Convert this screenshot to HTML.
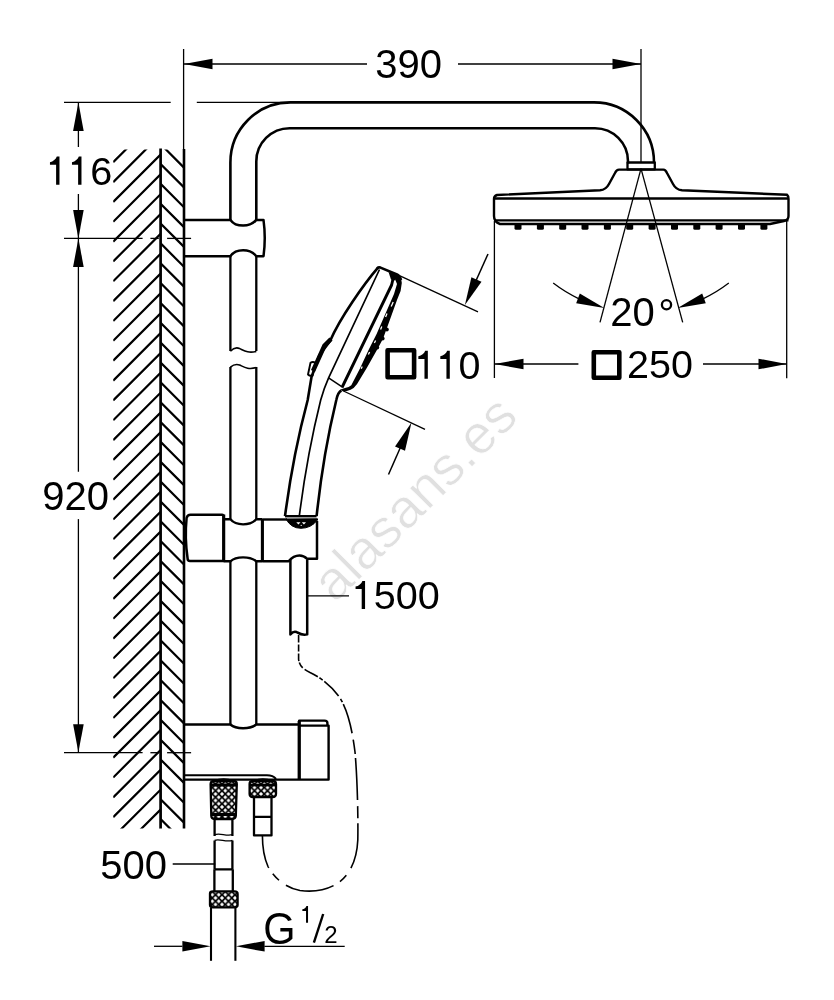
<!DOCTYPE html>
<html><head><meta charset="utf-8"><style>
html,body{margin:0;padding:0;background:#fff;}
svg{display:block;will-change:transform;}
text{font-family:"Liberation Sans",sans-serif;fill:#000;stroke:none;-webkit-font-smoothing:antialiased;}
</style></head><body>
<svg width="834" height="1000" viewBox="0 0 834 1000">
<rect width="834" height="1000" fill="#fff"/>
<g stroke="#000" fill="none" stroke-linecap="butt" stroke-linejoin="round">
<text x="0" y="0" font-size="54.8" style="fill:#e0e0e0;stroke:#fff;stroke-width:0.7" transform="translate(334.9,603.9) rotate(-45)">alasans.es</text>
<line x1="183.6" y1="49" x2="183.6" y2="150" stroke-width="1.3"/>
<line x1="641" y1="49" x2="641" y2="162" stroke-width="1.3"/>
<line x1="184" y1="64" x2="367" y2="64" stroke-width="1.3"/>
<line x1="458" y1="64" x2="641" y2="64" stroke-width="1.3"/>
<polygon points="184.0,64.0 212.5,69.3 212.5,58.7" stroke="none" fill="#000"/>
<polygon points="641.0,64.0 612.5,58.7 612.5,69.3" stroke="none" fill="#000"/>
<text x="375.20" y="78" font-size="40">3</text>
<text x="397.44" y="78" font-size="40">9</text>
<text x="419.68" y="78" font-size="40">0</text>
<line x1="64" y1="102.4" x2="170.7" y2="102.4" stroke-width="1.3"/>
<line x1="196.8" y1="102.4" x2="292" y2="102.4" stroke-width="1.3"/>
<line x1="78.4" y1="102.4" x2="78.4" y2="147" stroke-width="1.3"/>
<line x1="78.4" y1="194" x2="78.4" y2="471.8" stroke-width="1.3"/>
<line x1="78.4" y1="519.1" x2="78.4" y2="752.2" stroke-width="1.3"/>
<polygon points="78.4,102.4 73.1,131.0 83.7,131.0" stroke="none" fill="#000"/>
<polygon points="78.4,238.4 83.7,210.0 73.1,210.0" stroke="none" fill="#000"/>
<polygon points="78.4,238.4 73.1,267.0 83.7,267.0" stroke="none" fill="#000"/>
<polygon points="78.4,752.2 83.7,724.3 73.1,724.3" stroke="none" fill="#000"/>
<line x1="64" y1="238.4" x2="142.6" y2="238.4" stroke-width="1.3"/>
<line x1="150.4" y1="238.4" x2="158.8" y2="238.4" stroke-width="1.3"/>
<line x1="167.1" y1="238.4" x2="191.1" y2="238.4" stroke-width="1.3"/>
<line x1="64" y1="752.7" x2="142.6" y2="752.7" stroke-width="1.3"/>
<line x1="150.4" y1="752.7" x2="158.8" y2="752.7" stroke-width="1.3"/>
<line x1="167.1" y1="752.7" x2="191.1" y2="752.7" stroke-width="1.3"/>
<path d="M59.47,184.70 L59.47,156.58 L56.81,156.58 C55.90,159.16 53.13,161.73 49.96,162.13 L49.96,164.82 L56.10,164.82 L56.10,184.70 Z" fill="#000" stroke="none"/>
<path d="M81.48,184.70 L81.48,156.58 L78.83,156.58 C77.92,159.16 75.15,161.73 71.98,162.13 L71.98,164.82 L78.12,164.82 L78.12,184.70 Z" fill="#000" stroke="none"/>
<text x="90.24" y="184.7" font-size="39.6">6</text>
<text x="42.20" y="510" font-size="40">9</text>
<text x="64.44" y="510" font-size="40">2</text>
<text x="86.68" y="510" font-size="40">0</text>
<clipPath id="cl"><rect x="113.2" y="149.4" width="47.4" height="679.2"/></clipPath>
<clipPath id="cr"><rect x="160.6" y="149.4" width="23.4" height="679.2"/></clipPath>
<path clip-path="url(#cl)" d="M113.2,122.5L160.6,75.1M113.2,142.3L160.6,94.9M113.2,162.2L160.6,114.8M113.2,182.1L160.6,134.7M113.2,201.9L160.6,154.5M113.2,221.8L160.6,174.3M113.2,241.6L160.6,194.2M113.2,261.4L160.6,214.0M113.2,281.3L160.6,233.9M113.2,301.2L160.6,253.8M113.2,321.0L160.6,273.6M113.2,340.8L160.6,293.4M113.2,360.7L160.6,313.3M113.2,380.6L160.6,333.1M113.2,400.4L160.6,353.0M113.2,420.3L160.6,372.9M113.2,440.1L160.6,392.7M113.2,459.9L160.6,412.5M113.2,479.8L160.6,432.4M113.2,499.7L160.6,452.2M113.2,519.5L160.6,472.1M113.2,539.3L160.6,491.9M113.2,559.2L160.6,511.8M113.2,579.0L160.6,531.6M113.2,598.9L160.6,551.5M113.2,618.8L160.6,571.4M113.2,638.6L160.6,591.2M113.2,658.5L160.6,611.1M113.2,678.3L160.6,630.9M113.2,698.1L160.6,650.8M113.2,718.0L160.6,670.6M113.2,737.9L160.6,690.5M113.2,757.7L160.6,710.3M113.2,777.5L160.6,730.1M113.2,797.4L160.6,750.0M113.2,817.2L160.6,769.9M113.2,837.1L160.6,789.7M113.2,856.9L160.6,809.5M113.2,876.8L160.6,829.4M113.2,896.6L160.6,849.2M113.2,916.5L160.6,869.1M113.2,936.4L160.6,889.0" stroke-width="2.2"/>
<path clip-path="url(#cr)" d="M160.6,124.3L184,147.7M160.6,144.1L184,167.6M160.6,164.0L184,187.4M160.6,183.8L184,207.2M160.6,203.7L184,227.1M160.6,223.6L184,246.9M160.6,243.4L184,266.8M160.6,263.2L184,286.6M160.6,283.1L184,306.5M160.6,303.0L184,326.4M160.6,322.8L184,346.2M160.6,342.6L184,366.1M160.6,362.5L184,385.9M160.6,382.4L184,405.8M160.6,402.2L184,425.6M160.6,422.0L184,445.4M160.6,441.9L184,465.3M160.6,461.8L184,485.1M160.6,481.6L184,505.0M160.6,501.5L184,524.9M160.6,521.3L184,544.7M160.6,541.1L184,564.5M160.6,561.0L184,584.4M160.6,580.9L184,604.2M160.6,600.7L184,624.1M160.6,620.5L184,644.0M160.6,640.4L184,663.8M160.6,660.2L184,683.7M160.6,680.1L184,703.5M160.6,700.0L184,723.4M160.6,719.8L184,743.2M160.6,739.7L184,763.1M160.6,759.5L184,782.9M160.6,779.4L184,802.8M160.6,799.2L184,822.6M160.6,819.1L184,842.5M160.6,838.9L184,862.3M160.6,858.8L184,882.1M160.6,878.6L184,902.0M160.6,898.5L184,921.9M160.6,918.3L184,941.7M160.6,938.2L184,961.6" stroke-width="2.2"/>
<line x1="160.6" y1="148.5" x2="160.6" y2="828.6" stroke-width="2.7"/>
<line x1="184" y1="149" x2="184" y2="828.6" stroke-width="2.6"/>
<path d="M230.4,220 L230.4,162.4 A60,60 0 0 1 290.4,102.4 L594,102.4 A60,60 0 0 1 654,162.4 L654,163" stroke-width="2.6" fill="none" />
<path d="M256.3,221 L256.3,161.5 A33.3,33.3 0 0 1 289.6,128.2 L595,128.2 A33,33 0 0 1 628,161.2 L628,163.5" stroke-width="2.6" fill="none" />
<path d="M627.5,162.5 H654.8 V169.4 H627.5 Z" stroke-width="2.3" fill="none" />
<path d="M619,169.6 H663.5 Q665.5,169.6 667,173 L673,184 Q676,189.8 682,190.3 L787,194.8 Q788.5,196 788.5,199 V216 Q788.5,220 784,221 L770,224 H500 Q494,222 494,216 V199 Q494,196 497,195 L600,190.3 Q606,189.8 609,184 L615,173 Q616.5,169.6 619,169.6 Z" stroke-width="2.4" fill="none" />
<line x1="494" y1="198.5" x2="788.5" y2="198.5" stroke-width="2.3"/>
<line x1="494" y1="220.3" x2="788.5" y2="220.3" stroke-width="2.3"/>
<rect x="514.5" y="223.2" width="7" height="6.6" rx="1.6" fill="#000" stroke="none"/>
<rect x="536.9" y="223.2" width="7" height="6.6" rx="1.6" fill="#000" stroke="none"/>
<rect x="559.2" y="223.2" width="7" height="6.6" rx="1.6" fill="#000" stroke="none"/>
<rect x="581.5" y="223.2" width="7" height="6.6" rx="1.6" fill="#000" stroke="none"/>
<rect x="603.9" y="223.2" width="7" height="6.6" rx="1.6" fill="#000" stroke="none"/>
<rect x="626.2" y="223.2" width="7" height="6.6" rx="1.6" fill="#000" stroke="none"/>
<rect x="648.6" y="223.2" width="7" height="6.6" rx="1.6" fill="#000" stroke="none"/>
<rect x="671.0" y="223.2" width="7" height="6.6" rx="1.6" fill="#000" stroke="none"/>
<rect x="693.3" y="223.2" width="7" height="6.6" rx="1.6" fill="#000" stroke="none"/>
<rect x="715.6" y="223.2" width="7" height="6.6" rx="1.6" fill="#000" stroke="none"/>
<rect x="738.0" y="223.2" width="7" height="6.6" rx="1.6" fill="#000" stroke="none"/>
<rect x="760.4" y="223.2" width="7" height="6.6" rx="1.6" fill="#000" stroke="none"/>
<line x1="641" y1="168.6" x2="600" y2="322.3" stroke-width="1.3"/>
<line x1="641" y1="168.6" x2="682.7" y2="322.3" stroke-width="1.3"/>
<path d="M553.2,283.1 A144.3,144.3 0 0 0 580.0,299.4" stroke-width="1.3" fill="none" />
<polygon points="604.3,308.1 579.8,293.5 576.2,303.3" stroke="none" fill="#000"/>
<path d="M728.8,283.1 A144.3,144.3 0 0 1 702.0,299.4" stroke-width="1.3" fill="none" />
<polygon points="677.7,308.1 705.8,303.3 702.2,293.5" stroke="none" fill="#000"/>
<text x="610.30" y="326" font-size="40">2</text>
<text x="632.54" y="326" font-size="40">0</text>
<circle cx="666.5" cy="304.8" r="4.6" stroke-width="2.3" fill="none"/>
<line x1="494.4" y1="221" x2="494.4" y2="378" stroke-width="1.3"/>
<line x1="786.7" y1="221" x2="786.7" y2="378.2" stroke-width="1.3"/>
<line x1="494.4" y1="364" x2="578.4" y2="364" stroke-width="1.3"/>
<line x1="703" y1="364" x2="786.7" y2="364" stroke-width="1.3"/>
<polygon points="494.4,364.0 523.5,369.3 523.5,358.7" stroke="none" fill="#000"/>
<polygon points="786.7,364.0 758.5,358.7 758.5,369.3" stroke="none" fill="#000"/>
<path d="M593.8,352.2 H619.3 V377.8 H593.8 Z" stroke-width="4.6" fill="none" />
<text x="627.00" y="377.5" font-size="39.5">2</text>
<text x="648.96" y="377.5" font-size="39.5">5</text>
<text x="670.92" y="377.5" font-size="39.5">0</text>
<path d="M387.6,350.2 H414.1 V377.2 H387.6 Z" stroke-width="4.6" fill="none" />
<path d="M427.83,378.80 L427.83,350.75 L425.19,350.75 C424.28,353.32 421.51,355.89 418.35,356.29 L418.35,358.97 L424.48,358.97 L424.48,378.80 Z" fill="#000" stroke="none"/>
<path d="M449.79,378.80 L449.79,350.75 L447.15,350.75 C446.24,353.32 443.47,355.89 440.31,356.29 L440.31,358.97 L446.44,358.97 L446.44,378.80 Z" fill="#000" stroke="none"/>
<text x="458.52" y="378.8" font-size="39.5">0</text>
<line x1="400" y1="275.9" x2="478" y2="311.8" stroke-width="1.3"/>
<line x1="343.5" y1="391" x2="425" y2="429.4" stroke-width="1.3"/>
<line x1="488" y1="254" x2="470" y2="294" stroke-width="1.5"/>
<polygon points="464.9,305.0 481.5,281.8 471.4,277.2" stroke="none" fill="#000"/>
<line x1="388.5" y1="474.5" x2="405" y2="437" stroke-width="1.5"/>
<polygon points="411.5,422.5 395.0,446.4 405.0,450.8" stroke="none" fill="#000"/>
<path d="M230.4,256.2 V351 M256.3,256.2 V351 M230.4,367 V519 M256.3,367 V519 M230.4,561 V724.5 M256.3,561 V724.5" stroke-width="2.3" fill="none" />
<path d="M230.4,351.2 C233,348.5 236,347 239.5,348.5 C244,350.5 248,353.5 256.3,351.4" stroke-width="1.6" fill="none" />
<path d="M230.4,367.2 C233,365 236,363.8 239.5,365 C244,367 248,370 256.3,367.6" stroke-width="1.6" fill="none" />
<path d="M184,219.9 H230.4 C236,227.5 250,227.5 256.3,219.9 H263.5 Q266,238 263.5,256.2 H256.3 C250,248.3 236,248.3 230.4,256.2 H184" stroke-width="2.5" fill="none" />
<path d="M190.5,514.7 H222 Q223.7,514.7 223.7,517 V561 H190 Q187.6,561 187.6,558.5 Q184.6,538 186.6,518 Q187.5,514.7 190.5,514.7 Z" stroke-width="2.5" fill="none" />
<line x1="223.7" y1="514.5" x2="223.7" y2="562" stroke-width="3.1"/>
<path d="M223.7,519.3 H230.4 C236,526 250,526 256.3,519.3 H262.4 M223.7,561.3 H230.4 C236,556 250,556 256.3,561.3 H262.4" stroke-width="2.4" fill="none" />
<line x1="262.4" y1="519" x2="262.4" y2="562" stroke-width="3.1"/>
<path d="M262.4,519.5 H287" stroke-width="2.4" fill="none" />
<path d="M317,521 V558.8 H307.2 C305,556.8 302.5,555.6 299.5,555.6 C295,555.6 291,558.5 288.6,561.3 H262.4" stroke-width="2.5" fill="none" />
<path d="M286,519 Q291,528.3 301,528.3 Q311,528.3 317.5,520 L317.5,518.8 Z" stroke-width="1" fill="#000" />
<polygon points="296.3,522.2 300.5,522.2 298.4,524.6" fill="#fff" stroke="none"/>
<polygon points="301.8,522.2 306,522.2 303.9,524.6" fill="#fff" stroke="none"/>
<circle cx="301.2" cy="525.4" r="0.6" fill="#fff" stroke="none"/>
<path d="M285,516.2 Q293,455 307.7,400 L311.5,377 L319.5,355 L330.3,340.6 C340,318 364,284 378,267.7" stroke-width="2.6" fill="none" />
<path d="M331,339 L324.5,345.5 L313,371" stroke-width="4.4" fill="none" />
<path d="M310.5,362.8 Q313,361 315.5,363 L312.6,375.5 Q310,376.5 308,374.5 Z" stroke-width="1.9" fill="none" />
<path d="M285,516.2 H316.6" stroke-width="2.4" fill="none" />
<path d="M316.6,516.2 Q323,455 336.3,400 Q338,392 341.5,390.5" stroke-width="2.6" fill="none" />
<path d="M379.5,269.5 L328.6,377.8 Q324,388 320.7,400 Q307,455 299.3,516.2" stroke-width="1.7" fill="none" />
<path d="M328.6,377.8 L342.5,387.2" stroke-width="1.5" fill="none" />
<path d="M377.2,268.2 Q378.5,267 380.5,267.6 L397,274.5 Q400,276 401,280" stroke-width="2.6" fill="none" />
<path d="M393.8,275.5 L391.6,285 L342,387.5" stroke-width="2.9" fill="none" />
<polygon points="388.6,272.2 397,274.8 395.2,280.5 391,279.5" fill="#000" stroke="none"/>
<path d="M388.6,272.4 L396,274.6 Q401.5,276.5 401.8,283 L400.6,291 L397,300 L391,316.8 L383.1,338.5 L377.9,348.2 L366.9,367.7 L357.1,384 Q354,388.5 350.6,389.8 Q347,391.5 343,391.5 L340.5,389.5 L345,388 Q349,387.5 351.3,385.3 L359.7,369 L368.8,349.5 L376.6,333.9 L394,294 L397,284 L394.5,277.8 Z" fill="#000" stroke="none"/>
<path d="M393.2,302 L391.2,306.5 M387,313.5 L385.6,317 M381.8,326.5 L380.6,329.5 M375.6,340.5 L374.4,343 M369.6,352 L368.4,354.5 M362.2,366.5 L361.2,368.8" stroke-width="1.3" fill="none" stroke="#fff"/>
<circle cx="386.9" cy="329.5" r="1.9" fill="#000" stroke="none"/>
<circle cx="382.7" cy="338.5" r="1.9" fill="#000" stroke="none"/>
<circle cx="377.3" cy="347.6" r="1.9" fill="#000" stroke="none"/>
<path d="M290.4,559.4 V634.4 C292,632.5 294.5,631.2 296.5,632 C299,633.5 302,635.8 307.2,634.4 V559.4" stroke-width="2.5" fill="none" />
<line x1="307.4" y1="595.8" x2="349" y2="595.8" stroke-width="1.3"/>
<path d="M365.07,609.00 L365.07,580.88 L362.41,580.88 C361.50,583.46 358.73,586.03 355.56,586.43 L355.56,589.12 L361.70,589.12 L361.70,609.00 Z" fill="#000" stroke="none"/>
<text x="373.82" y="609" font-size="39.6">5</text>
<text x="395.84" y="609" font-size="39.6">0</text>
<text x="417.85" y="609" font-size="39.6">0</text>
<path d="M184,724.5 H230.4 C236,729.5 250,729.5 256.3,724.5 H299" stroke-width="2.5" fill="none" />
<path d="M299.2,780 V720.6 H324.5 Q327.4,720.6 327.4,723 V725.6" stroke-width="2.4" fill="none" />
<path d="M299.2,725.6 H328.6 V779.6 H184" stroke-width="2.4" fill="none" />
<line x1="299.2" y1="721" x2="299.2" y2="780" stroke-width="3.2"/>
<path d="M184,775.3 H267 Q273,775.3 276,779" stroke-width="2.0" fill="none" />
<pattern id="kn" width="6.5" height="6.5" patternUnits="userSpaceOnUse" x="1" y="1"><rect width="6.5" height="6.5" fill="#000" stroke="none"/><path stroke="none" d="M3.25,1.25 L5.25,3.25 L3.25,5.25 L1.25,3.25 Z M0,-2.0 L2.0,0 L0,2.0 L-2.0,0 Z M6.5,-2.0 L8.5,0 L6.5,2.0 L4.5,0 Z M0,4.5 L2.0,6.5 L0,8.5 L-2.0,6.5 Z M6.5,4.5 L8.5,6.5 L6.5,8.5 L4.5,6.5 Z" fill="#fff"/></pattern>
<path d="M210.6,784 Q210.8,781 214,781 H233.5 Q236.8,781 236.8,784 L235.8,816 Q235.5,819 232,819 H214.5 Q211.5,819 211.3,816 Z" stroke-width="2.3" fill="url(#kn)" />
<path d="M214,781 Q223.5,776.5 233.5,781" stroke-width="1.2" fill="none" />
<path d="M210.8,785 H236.6 M211.2,814.5 H236" stroke-width="3.0" fill="none" />
<path d="M249.6,784 Q249.6,781 253,781 H272.5 Q276,781 276,784 V794 Q276,797 272.5,797 H253 Q249.6,797 249.6,794 Z" stroke-width="2.3" fill="url(#kn)" />
<path d="M253,781 Q262.8,776.5 272.5,781" stroke-width="1.2" fill="none" />
<path d="M249.5,785 H276" stroke-width="2.6" fill="none" />
<path d="M214.6,819 V836 M232.4,819 V836 M214.6,840.6 V869.3 M232.4,840.6 V869.3" stroke-width="2.3" fill="none" />
<path d="M214.6,834.7 C220,832.5 226,836.5 232.4,834.7 M214.6,840.3 C220,838.5 226,842.5 232.4,840.3" stroke-width="1.4" fill="none" />
<path d="M214.6,869.3 H232.6 M214.4,869.3 V891.4 M232.8,869.3 V891.4" stroke-width="2.3" fill="none" />
<path d="M210,893.5 Q210,891.4 213,891.4 H234.5 Q237.6,891.4 237.6,894 V905 Q237.6,907.3 234.5,907.3 H213 Q210,907.3 210,905 Z" stroke-width="2.3" fill="url(#kn)" />
<line x1="211" y1="907.5" x2="211" y2="960.8" stroke-width="2.1"/>
<line x1="235.4" y1="907.5" x2="235.4" y2="960.8" stroke-width="2.1"/>
<path d="M254,797 V835.4 H271.5 V797 M254,816.8 H271.5" stroke-width="2.3" fill="none" />
<line x1="172.7" y1="864" x2="215.2" y2="864" stroke-width="1.3"/>
<text x="100.20" y="879" font-size="40">5</text>
<text x="122.44" y="879" font-size="40">0</text>
<text x="144.68" y="879" font-size="40">0</text>
<line x1="154" y1="946.3" x2="182.4" y2="946.3" stroke-width="1.3"/>
<polygon points="210.6,946.3 182.4,941.0 182.4,951.6" stroke="none" fill="#000"/>
<line x1="264.4" y1="946.3" x2="344.7" y2="946.3" stroke-width="1.3"/>
<polygon points="235.9,946.3 264.6,951.6 264.6,941.0" stroke="none" fill="#000"/>
<text transform="translate(263.3,943.6) scale(1,1.07)" font-size="41.5">G</text>
<path d="M308.04,922.80 L308.04,905.97 L306.45,905.97 C305.91,907.51 304.25,909.05 302.35,909.29 L302.35,910.90 L306.03,910.90 L306.03,922.80 Z" fill="#000" stroke="none"/>
<line x1="323.2" y1="914" x2="313.9" y2="942.6" stroke-width="2.4"/>
<text x="324.2" y="942.6" font-size="24">2</text>
<path d="M298.6,634 V659.5 C299.5,666 303,669 310,672.5 C320,677 332,686 340,698 C347.5,710 352,728 355,752 C357.5,780 358.2,820 357.8,840 C357,858 351,874 338,883 C326,891 312,892 300,890.5 C286,888 274,878 268,866.5 C263,855 262.4,845 262.4,835.4" stroke-width="1.6" fill="none" stroke-dasharray="0 1 7.5 2 7 2 7.5 1.5 6.5 2.5 15 2 4 2 20.5 3.5 4 2 30.5 6.5 14.5 4 42 6 12 5 46 8.5 9 7.5 49.5 8.5 9 7 34 10"/>
</g>
</svg></body></html>
